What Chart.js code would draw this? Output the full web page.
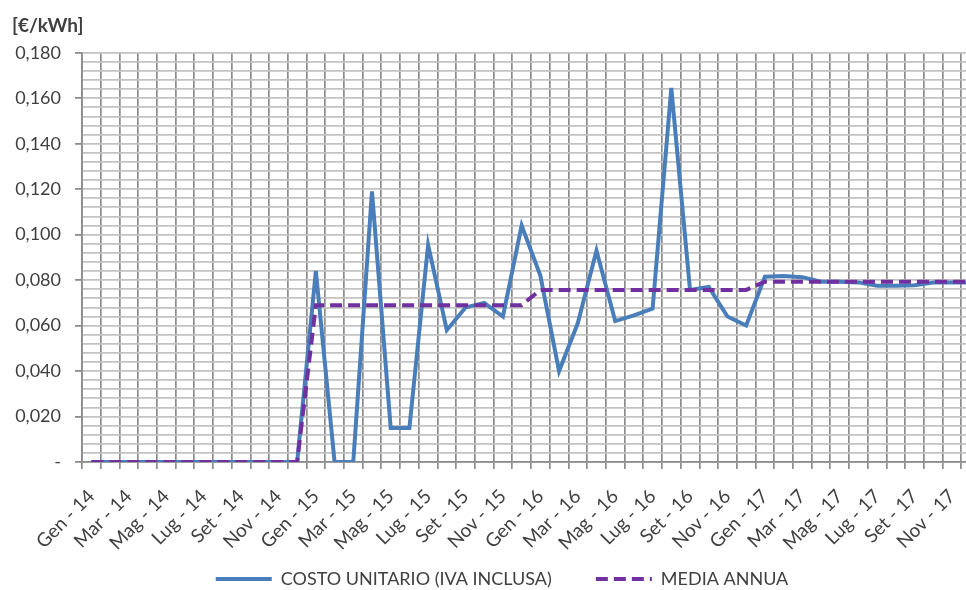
<!DOCTYPE html>
<html>
<head>
<meta charset="utf-8">
<script src="https://cdn.jsdelivr.net/npm/chart.js@4/dist/chart.umd.min.js"></script>
<style>
  html, body { margin: 0; padding: 0; background: #fff; overflow: hidden; }
  #chart { display: block; }
</style>
</head>
<body>
<canvas id="chart" width="1010" height="590"></canvas>
<script>
// categories: one per month, Gen-14 .. Dic-17
const MONTHS = ['Gen', 'Feb', 'Mar', 'Apr', 'Mag', 'Giu', 'Lug', 'Ago', 'Set', 'Ott', 'Nov', 'Dic'];
const YEARS = ['14', '15', '16', '17'];
const categories = YEARS.flatMap(y => MONTHS.map(m => m + ' - ' + y));

// €/kWh
const costoUnitario = [
  0, 0, 0, 0, 0, 0, 0, 0, 0, 0, 0, 0,
  0.084, 0, 0, 0.119, 0.015, 0.015, 0.0955, 0.058, 0.068, 0.070, 0.064, 0.104,
  0.082, 0.040, 0.061, 0.093, 0.062, 0.0645, 0.0675, 0.1645, 0.0757, 0.077, 0.064, 0.060,
  0.0815, 0.0818, 0.0813, 0.0793, 0.0793, 0.079, 0.0775, 0.0775, 0.0778, 0.079, 0.079, 0.079
];
const mediaAnnua = [
  0, 0, 0, 0, 0, 0, 0, 0, 0, 0, 0, 0,
  0.069, 0.069, 0.069, 0.069, 0.069, 0.069, 0.069, 0.069, 0.069, 0.069, 0.069, 0.069,
  0.0757, 0.0757, 0.0757, 0.0757, 0.0757, 0.0757, 0.0757, 0.0757, 0.0757, 0.0757, 0.0757, 0.0757,
  0.0793, 0.0793, 0.0793, 0.0793, 0.0793, 0.0793, 0.0793, 0.0793, 0.0793, 0.0793, 0.0793, 0.0793
];

const seriesNames = ['COSTO UNITARIO (IVA INCLUSA)', 'MEDIA ANNUA'];
const yMax = 0.18;
const yMajor = 0.02;
const yMinor = 0.004;

const textColor = '#404040';
const axisGrey = '#8c8c8c';

function isMajor(v) {
  return Math.abs(Math.round(v / yMajor) * yMajor - v) < 1e-9;
}

// nudge the legend so it sits where the original one does
// (top is raised only, so the clip box still reaches the canvas bottom)
const legendShift = {
  id: 'legendShift',
  afterLayout(chart) {
    const lg = chart.legend;
    lg.left += 6;
    lg.right += 6;
    lg.top -= 36;
  }
};

Chart.defaults.font.family = 'Lato';
Chart.defaults.color = textColor;

const ctx = document.getElementById('chart').getContext('2d');
new Chart(ctx, {
  type: 'line',
  data: {
    labels: categories,
    datasets: [
      {
        label: seriesNames[0],
        data: costoUnitario,
        borderColor: '#4a7ebb',
        backgroundColor: '#4a7ebb',
        borderWidth: 4,
        pointRadius: 0,
        tension: 0,
        order: 2
      },
      {
        label: seriesNames[1],
        data: mediaAnnua,
        borderColor: '#7030a0',
        backgroundColor: '#7030a0',
        borderWidth: 4,
        borderDash: [12, 6],
        pointRadius: 0,
        tension: 0,
        order: 1
      }
    ]
  },
  options: {
    responsive: false,
    animation: false,
    devicePixelRatio: 1,
    layout: { padding: { left: 12, right: 30, top: 4, bottom: 0 } },
    plugins: {
      title: {
        display: true,
        text: '[€/kWh]',
        align: 'start',
        color: textColor,
        font: { size: 19, weight: 'bold' },
        padding: { top: 10, bottom: 16 }
      },
      legend: {
        position: 'bottom',
        maxHeight: 28,
        labels: {
          usePointStyle: true,
          pointStyle: 'line',
          pointStyleWidth: 56,
          boxHeight: 4,
          padding: 44,
          color: textColor,
          font: { size: 18 },
          sort: (a, b) => a.datasetIndex - b.datasetIndex,
          // point-style items lose the dataset dash, so copy the line style back in
          generateLabels(chart) {
            const items = Chart.defaults.plugins.legend.labels.generateLabels(chart);
            items.forEach(item => {
              const ds = chart.data.datasets[item.datasetIndex];
              item.strokeStyle = ds.borderColor;
              item.lineWidth = ds.borderWidth;
              item.lineDash = ds.borderDash || [];
            });
            return items;
          }
        }
      },
      tooltip: { enabled: false }
    },
    scales: {
      x: {
        offset: true,
        grid: { offset: true, color: axisGrey, lineWidth: 1.7, tickLength: 7, tickColor: axisGrey },
        border: { color: axisGrey, width: 1.7 },
        ticks: {
          autoSkip: false,
          minRotation: 45,
          maxRotation: 45,
          padding: 16,
          color: textColor,
          font: { size: 19 },
          callback(value, index) {
            return index % 2 === 0 ? this.getLabelForValue(value) : '';
          }
        },
        afterFit(scale) { scale.height = 100; }
      },
      y: {
        min: 0,
        max: yMax,
        grid: {
          color: '#c2c2c2',
          lineWidth: 1.8,
          tickLength: 7,
          tickColor: c => isMajor(c.tick.value) ? axisGrey : 'rgba(0,0,0,0)'
        },
        border: { color: axisGrey, width: 1.7 },
        ticks: {
          stepSize: yMinor,
          autoSkip: false,
          padding: 14,
          color: textColor,
          font: { size: 18 },
          callback(value) {
            if (!isMajor(value)) return '';
            if (Math.abs(value) < 1e-9) return '-';
            return value.toFixed(3).replace('.', ',');
          }
        },
        afterFit(scale) { scale.width = 70; }
      }
    }
  },
  plugins: [legendShift]
});
</script>
</body>
</html>
